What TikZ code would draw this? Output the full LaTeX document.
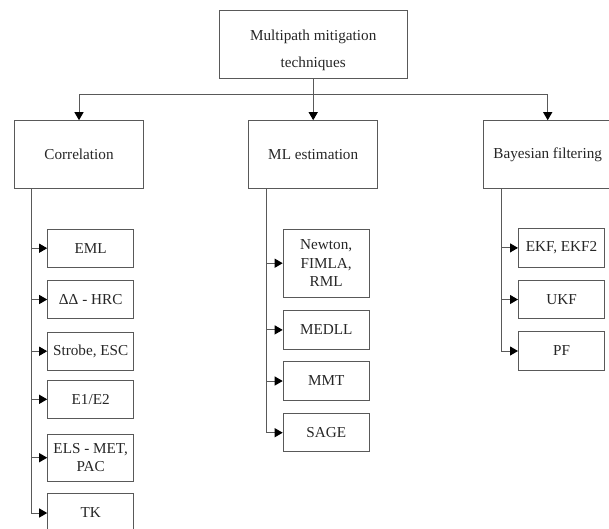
\documentclass[tikz,border=0pt]{standalone}
\usepackage{fontspec}
\setmainfont{Liberation Serif}
\usetikzlibrary{arrows.meta}
\begin{document}
\begin{tikzpicture}[x=1pt,y=-1pt,
  box/.style={draw=black!65, line width=1pt, inner sep=0pt, align=center,
    font=\fontsize{15.2}{18.3}\selectfont, text=black!85},
  sub/.style={box, minimum width=86pt, minimum height=38.3pt},
  mainbox/.style={box, minimum width=128.5pt, minimum height=68pt},
  lbl/.style={inner sep=0pt, align=center, font=\fontsize{15.2}{18.3}\selectfont, text=black!85},
  conn/.style={draw=black!65, line width=1pt,
    -{Triangle[length=8pt,width=9pt,fill=black,color=black]}}]
\useasboundingbox (0,0) rectangle (609,528);

\node[box, minimum width=188.4pt, minimum height=68.3pt] (top) at (313.2,44.2) {};
\node[lbl] (toplbl) at (313.2,50) {Multipath mitigation\\[8.4pt]techniques};

\node[mainbox] (corr) at (79,154.7) {Correlation};
\node[mainbox] (ml) at (313.2,154.7) {ML estimation};
\node[mainbox] (bay) at (547.7,154.7) {Bayesian filtering};

\draw[conn] (top.south) -- (ml.north);
\draw[conn] (top.south) -- ++(0,15.5) -| (corr.north);
\draw[conn] (top.south) -- ++(0,15.5) -| (bay.north);

% Correlation children
\coordinate (cv) at (31,0);
\node[sub] (e1) at (90.7,248.2) {EML};
\node[sub] (e2) at (90.7,299.5) {ΔΔ - HRC};
\node[sub] (e3) at (90.7,351.2) {Strobe, ESC};
\node[sub] (e4) at (90.7,399.3) {E1/E2};
\node[sub, minimum height=47.3pt] (e5) at (90.7,457.7) {ELS - MET,\\PAC};
\node[sub] (e6) at (90.7,513) {TK};
\foreach \n in {e1,e2,e3,e4,e5,e6}
  \draw[conn] (corr.south -| cv) |- (\n.west);

% ML children
\coordinate (mv) at (266.3,0);
\node[sub, minimum height=68.3pt] (m1) at (326.2,263.2) {Newton,\\FIMLA,\\RML};
\node[sub] (m2) at (326.2,329.9) {MEDLL};
\node[sub] (m3) at (326.2,381) {MMT};
\node[sub] (m4) at (326.2,432.7) {SAGE};
\foreach \n in {m1,m2,m3,m4}
  \draw[conn] (ml.south -| mv) |- (\n.west);

% Bayesian children
\coordinate (bv) at (501.7,0);
\node[sub] (b1) at (561.5,247.9) {EKF, EKF2};
\node[sub] (b2) at (561.5,299.5) {UKF};
\node[sub] (b3) at (561.5,351) {PF};
\foreach \n in {b1,b2,b3}
  \draw[conn] (bay.south -| bv) |- (\n.west);
\end{tikzpicture}
\end{document}
